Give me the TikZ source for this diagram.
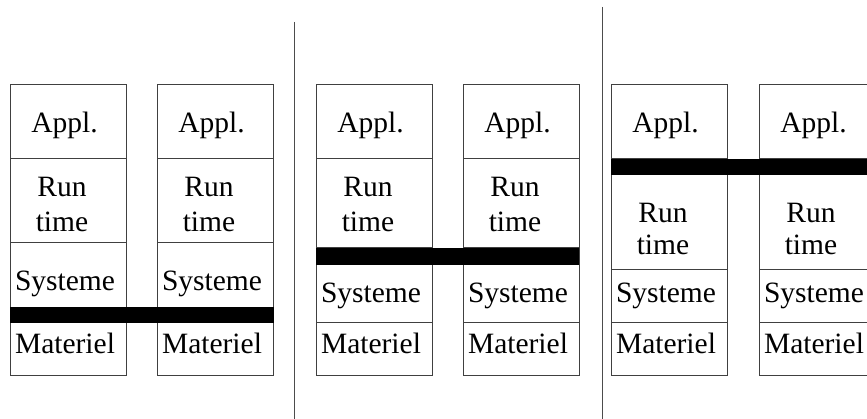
\documentclass[tikz,border=0pt]{standalone}
\usepackage{fontspec}
\setmainfont{Liberation Serif}
% One protocol stack: #1 name, #2 left edge, #3 bottom of Appl., #4 bottom of
% Run time, #5 Run baseline, #6 time baseline, #7 Systeme baseline
\newcommand\pile[7]{%
  \draw[layer] (#2,85) rectangle (#2+116,375);
  \draw[layer] (#2,#3) -- (#2+116,#3);
  \draw[layer] (#2,#4) -- (#2+116,#4);
  \draw[layer] (#2,323) -- (#2+116,323);
  \node[txt] (#1-appl) at (#2+54.5,133) {Appl.};
  \node[txt] (#1-run)  at (#2+52,#5) {Run};
  \node[txt] (#1-time) at (#2+52,#6) {time};
  \node[txt] (#1-sys)  at (#2+55,#7) {Systeme};
  \node[txt] (#1-mat)  at (#2+55,353) {Materiel};
}
\begin{document}
\begin{tikzpicture}[x=1pt,y=-1pt,
  layer/.style={draw=black!75,line width=1pt},
  txt/.style={anchor=base,inner sep=0pt,font=\fontsize{29.5}{35}\selectfont},
  cut/.style={fill=black},
  sep/.style={draw=black!70,line width=1pt}]
\useasboundingbox (0,0) rectangle (867,419);
\clip (0,0) rectangle (867,419);
\fill[white] (0,0) rectangle (867,419);

% vertical separators between the three cases
\draw[sep] (294,22) -- (294,419);
\draw[sep] (602,7) -- (602,419);

% case 1: cut between Systeme and Materiel
\pile{a}{10}{159}{243}{197}{232}{291}
\pile{b}{157}{159}{243}{197}{232}{291}
\fill[cut] (10,307) rectangle (274,323);

% case 2: cut between Run time and Systeme
\pile{c}{316}{159}{248}{197}{232}{303}
\pile{d}{463}{159}{248}{197}{232}{303}
\fill[cut] (316,248) rectangle (579,265);

% case 3: cut between Appl. and Run time
\pile{e}{611}{159}{270}{223}{255}{303}
\pile{f}{759}{159}{270}{223}{255}{303}
\fill[cut] (611,159) rectangle (870,175);
\end{tikzpicture}
\end{document}
